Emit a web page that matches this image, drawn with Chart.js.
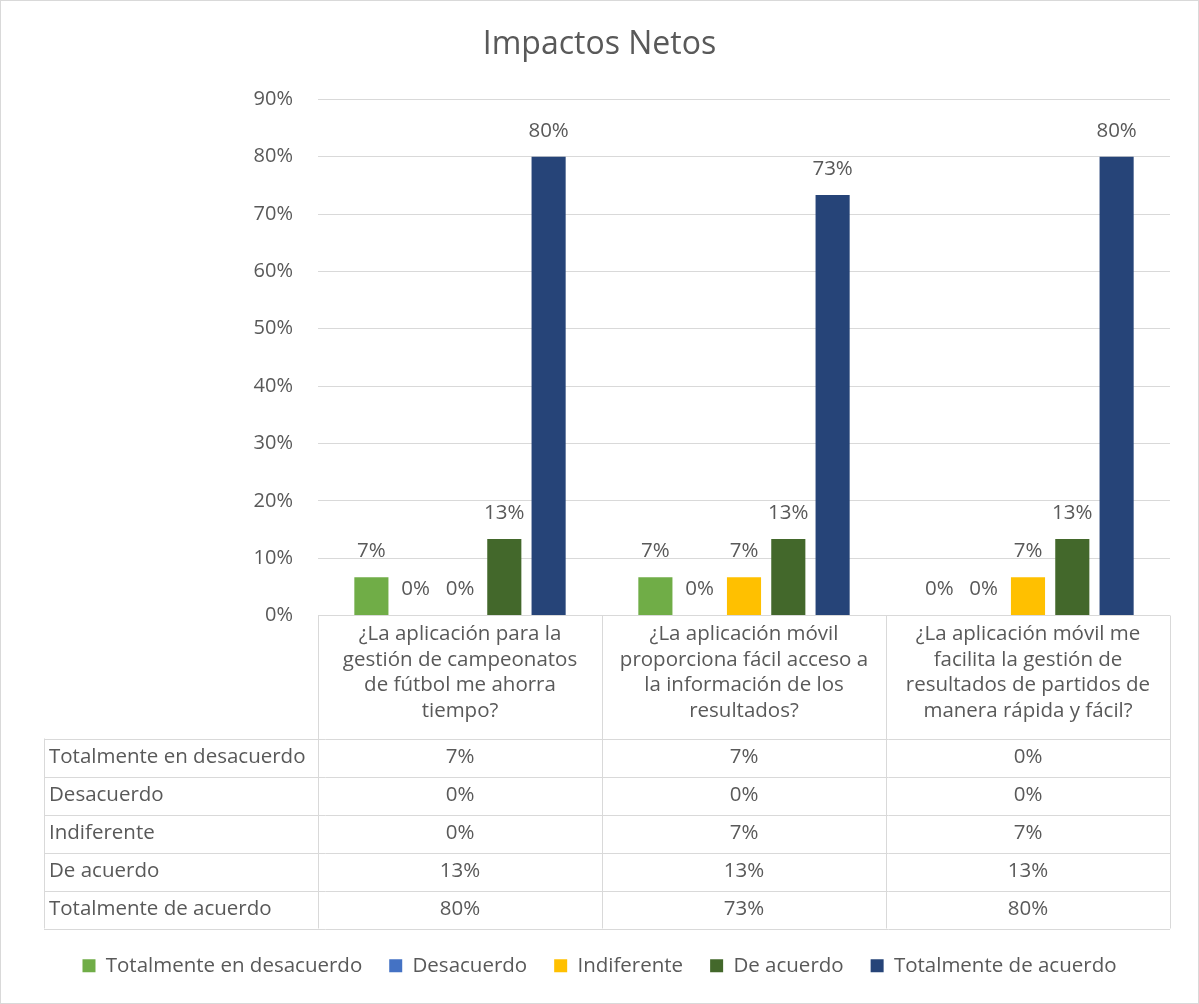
<!DOCTYPE html>
<html>
<head>
<meta charset="utf-8">
<script src="https://cdn.jsdelivr.net/npm/chart.js@4.4.1/dist/chart.umd.min.js"></script>
<style>
  body { margin: 0; background: #fff; }
  canvas { display: block; }
</style>
</head>
<body>
<canvas id="impactChart" width="1199" height="1004"></canvas>
<script>
// categories (preguntas), one array of lines per question
const categories = [
    ['¿La aplicación para la', 'gestión de campeonatos', 'de fútbol me ahorra', 'tiempo?'],
    ['¿La aplicación móvil', 'proporciona fácil acceso a', 'la información de los', 'resultados?'],
    ['¿La aplicación móvil me', 'facilita la gestión de', 'resultados de partidos de', 'manera rápida y fácil?']
];

const seriesNames = ['Totalmente en desacuerdo', 'Desacuerdo', 'Indiferente', 'De acuerdo', 'Totalmente de acuerdo'];

// values in %
const totalDesacuerdo = [6.67, 6.67, 0];
const desacuerdo = [0, 0, 0];
const indiferente = [0, 6.67, 6.67];
const deAcuerdo = [13.33, 13.33, 13.33];
const totalAcuerdo = [80, 73.33, 80];

const yTicks = [0, 10, 20, 30, 40, 50, 60, 70, 80, 90];

const seriesColors = ['#70AD47', '#4472C4', '#FFC000', '#43682B', '#264478'];
const seriesValues = [totalDesacuerdo, desacuerdo, indiferente, deAcuerdo, totalAcuerdo];

const textColor = '#595959';
const lineColor = '#d9d9d9';
const fontFamily = '"Open Sans", Lato, sans-serif';
const fontSize = 20.5;

// white background + outer frame
const framePlugin = {
    id: 'frame',
    beforeDraw(chart) {
        const ctx = chart.ctx;
        ctx.save();
        ctx.fillStyle = '#fff';
        ctx.fillRect(0, 0, chart.width, chart.height);
        ctx.strokeStyle = lineColor;
        ctx.strokeRect(0.5, 0.5, chart.width - 1, chart.height - 1);
        ctx.restore();
    }
};

// value labels above each bar
const barLabelPlugin = {
    id: 'barLabels',
    afterDatasetsDraw(chart) {
        const ctx = chart.ctx;
        ctx.save();
        ctx.fillStyle = textColor;
        ctx.font = fontSize + 'px ' + fontFamily;
        ctx.textAlign = 'center';
        ctx.textBaseline = 'middle';
        chart.data.datasets.forEach((ds, i) => {
            const meta = chart.getDatasetMeta(i);
            meta.data.forEach((bar, j) => {
                ctx.fillText(Math.round(ds.data[j]) + '%', bar.x, bar.y - 26);
            });
        });
        ctx.restore();
    }
};

// data table under the plot
const tablePlugin = {
    id: 'dataTable',
    afterDraw(chart) {
        const ctx = chart.ctx;
        const area = chart.chartArea;
        const xScale = chart.scales.x;
        const n = categories.length;
        const colW = (area.right - area.left) / n;
        const headerH = 123;
        const rowH = 38;
        const tableLeft = 44;
        const top = area.bottom;
        const rowsTop = top + headerH;
        const bottom = rowsTop + rowH * seriesNames.length;

        ctx.save();
        ctx.strokeStyle = lineColor;
        ctx.lineWidth = 1;
        ctx.beginPath();
        for (let i = 0; i <= n; i++) {
            const px = Math.round(area.left + colW * i) + 0.5;
            ctx.moveTo(px, top);
            ctx.lineTo(px, bottom);
        }
        ctx.moveTo(tableLeft + 0.5, rowsTop);
        ctx.lineTo(tableLeft + 0.5, bottom);
        for (let r = 0; r <= seriesNames.length; r++) {
            const py = Math.round(rowsTop + rowH * r) + 0.5;
            ctx.moveTo(tableLeft, py);
            ctx.lineTo(area.right, py);
        }
        ctx.stroke();

        ctx.fillStyle = textColor;
        ctx.font = fontSize + 'px ' + fontFamily;
        ctx.textBaseline = 'middle';
        seriesNames.forEach((name, r) => {
            const cy = rowsTop + rowH * r + rowH / 2;
            ctx.textAlign = 'left';
            ctx.fillText(name, tableLeft + 5, cy);
            ctx.textAlign = 'center';
            seriesValues[r].forEach((v, c) => {
                ctx.fillText(Math.round(v) + '%', xScale.getPixelForValue(c), cy);
            });
        });
        ctx.restore();
    }
};

const ctx = document.getElementById('impactChart').getContext('2d');

new Chart(ctx, {
    type: 'bar',
    data: {
        labels: categories,
        datasets: seriesNames.map((name, i) => ({
            label: name,
            data: seriesValues[i],
            backgroundColor: seriesColors[i],
            borderWidth: 0,
            categoryPercentage: 0.78,
            barPercentage: 0.77
        }))
    },
    options: {
        responsive: false,
        animation: false,
        devicePixelRatio: 1,
        layout: {
            padding: { left: 29, right: 29, top: 0, bottom: 18 }
        },
        scales: {
            x: {
                grid: { display: false, drawTicks: false },
                border: { display: false },
                ticks: {
                    color: textColor,
                    font: { family: fontFamily, size: fontSize, lineHeight: 25.5 / fontSize },
                    padding: 6,
                    maxRotation: 0,
                    autoSkip: false
                },
                afterFit(scale) {
                    scale.height = 313;
                }
            },
            y: {
                min: 0,
                max: 90,
                afterBuildTicks(scale) {
                    scale.ticks = yTicks.map(v => ({ value: v }));
                },
                grid: { color: lineColor, drawTicks: false, tickLength: 0 },
                border: { display: false },
                ticks: {
                    color: textColor,
                    font: { family: fontFamily, size: 20 },
                    padding: 25,
                    callback: v => v + '%'
                },
                afterFit(scale) {
                    scale.width = 289;
                }
            }
        },
        plugins: {
            title: {
                display: true,
                text: 'Impactos Netos',
                color: textColor,
                font: { family: fontFamily, size: 32, weight: 'normal' },
                padding: { top: 26, bottom: 35 }
            },
            legend: {
                position: 'bottom',
                labels: {
                    color: textColor,
                    font: { family: fontFamily, size: fontSize },
                    boxWidth: 13,
                    boxHeight: 13,
                    padding: 27
                }
            },
            tooltip: { enabled: false }
        }
    },
    plugins: [framePlugin, barLabelPlugin, tablePlugin]
});
</script>
</body>
</html>
